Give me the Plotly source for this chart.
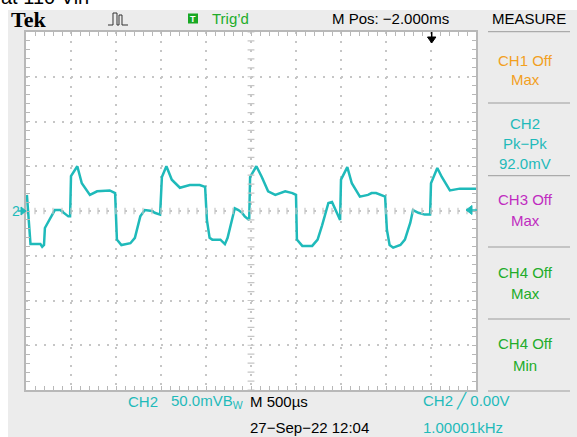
import plotly.graph_objects as go
import numpy as np

# ---------------- data ----------------
time_ms = [0.01, 0.04, 0.05, 0.16, 0.18, 0.20, 0.21, 0.32, 0.38, 0.47,
           0.49, 0.50, 0.57, 0.62, 0.71, 0.79, 0.93, 0.99, 1.01, 1.06,
           1.16, 1.21, 1.27, 1.32, 1.40, 1.43, 1.49, 1.51, 1.56, 1.62,
           1.71, 1.82, 1.93, 1.99, 2.01, 2.04, 2.07, 2.16, 2.21, 2.24,
           2.29, 2.32, 2.36, 2.40, 2.43, 2.48, 2.49, 2.56, 2.62, 2.69,
           2.77, 2.88, 2.96, 3.00, 3.01, 3.07, 3.18, 3.24, 3.29, 3.36,
           3.40, 3.44, 3.49, 3.50, 3.57, 3.62, 3.71, 3.80, 3.84, 3.89,
           3.99, 4.01, 4.04, 4.08, 4.16, 4.21, 4.27, 4.30, 4.36, 4.43,
           4.49, 4.50, 4.57, 4.62, 4.71, 4.82, 4.93, 5.00]
ch2_mV = [18, -32, -37, -37, -40, -38, -19, 1, 1, -6,
          -6, 39, 50, 31, 18, 22, 23, 20, -32, -38,
          -36, -30, -6, 1, 0, -2, -4, 38, 50, 35,
          26, 29, 29, 27, -10, -30, -32, -32, -37, -30,
          -10, 3, 1, -2, -6, -10, 38, 50, 38, 22,
          18, 22, 20, 18, -32, -39, -39, -32, -16, 9,
          10, 1, -10, 35, 49, 31, 16, 18, 20, 20,
          16, -21, -38, -41, -38, -32, -13, 1, -2, -4,
          -4, 31, 48, 38, 23, 25, 25, 25]

header_labels = ["Tek", "Trig’d", "M Pos: −2.000ms", "MEASURE"]
measure_lines = [["CH1 Off", "Max"], ["CH2", "Pk−Pk", "92.0mV"], ["CH3 Off", "Max"],
                 ["CH4 Off", "Max"], ["CH4 Off", "Min"]]
footer_labels = ["CH2", "50.0mVB<sub>W</sub>", "M 500µs", "27−Sep−22 12:04", "CH2 ╱ 0.00V", "1.00001kHz"]
caption_text = "at 110 Vin"

# ---------------- geometry helpers ----------------
W, H = 577, 437
L, R, T, B = 26, 476, 32, 390


def xp(px):
    return (px - L) / (R - L)


def yp(py):
    return (B - py) / (B - T)


def ppath(pts):
    s = ""
    for c, x, y in pts:
        s += f"{c} {xp(x):.5f},{yp(y):.5f} "
    return s


TEAL = "#1fbaba"
ORANGE = "#f2a01e"
MAGENTA = "#c02cc0"
GREEN = "#22ac2a"
GRID = "#c6c6c6"
FRAME = "#b8b8b8"
FONT = "Liberation Sans, Arial, sans-serif"

fig = go.Figure()
fig.add_trace(go.Scatter(x=time_ms, y=ch2_mV, mode="lines",
                         line=dict(color=TEAL, width=2.5), hoverinfo="skip"))

axis_common = dict(showgrid=True, gridcolor=GRID, griddash="2px,7px", gridwidth=2,
                   zeroline=False, showline=True, linecolor=FRAME, linewidth=1.5,
                   mirror="ticks", ticks="inside", ticklen=4, tickcolor=FRAME,
                   showticklabels=False, fixedrange=True)
fig.update_xaxes(range=[0, 5], dtick=0.5, tick0=0,
                 minor=dict(dtick=0.1, tick0=0, ticks="inside", ticklen=4,
                            tickcolor=FRAME, showgrid=False), **axis_common)
fig.update_yaxes(range=[-200, 200], dtick=50, tick0=0,
                 minor=dict(dtick=10, tick0=0, ticks="inside", ticklen=4,
                            tickcolor=FRAME, showgrid=False), **axis_common)

shapes = []
# white strips at top and left of the screenshot
shapes.append(dict(type="rect", xref="paper", yref="paper", x0=xp(-5), x1=xp(W + 5),
                   y0=yp(10), y1=yp(-5), fillcolor="white", line=dict(width=0), layer="below"))
shapes.append(dict(type="rect", xref="paper", yref="paper", x0=xp(-5), x1=xp(8),
                   y0=yp(H + 5), y1=yp(-5), fillcolor="white", line=dict(width=0), layer="below"))

# centre cross tick marks
cp = ""
for t in np.arange(0, 5.0001, 0.1):
    cp += f"M {t:.3f},-3.5 L {t:.3f},3.5 "
for v in np.arange(-200, 200.001, 10):
    cp += f"M 2.462,{v:.1f} L 2.538,{v:.1f} "
shapes.append(dict(type="path", xref="x", yref="y", path=cp, line=dict(color=GRID, width=1.2)))

# measure panel separators
for py in [31.7, 103, 175.7, 247, 319, 391]:
    shapes.append(dict(type="line", xref="paper", yref="paper", x0=xp(488), x1=xp(570),
                       y0=yp(py), y1=yp(py), line=dict(color="#9c9c9c", width=1)))

# green trig box
shapes.append(dict(type="rect", xref="paper", yref="paper", x0=xp(188), x1=xp(198),
                   y0=yp(23.5), y1=yp(13.5), fillcolor="#18a823", line=dict(width=0)))

# acquisition icon
shapes.append(dict(type="path", xref="paper", yref="paper",
                   path=ppath([("M", 108, 25), ("L", 113, 25), ("L", 113, 13), ("L", 117, 13),
                               ("L", 117, 25), ("L", 119, 25), ("L", 119, 15), ("L", 122, 15),
                               ("L", 122, 25), ("L", 128, 25)]),
                   line=dict(color="#333333", width=1)))

# ground marker arrow (left)
shapes.append(dict(type="path", xref="paper", yref="paper",
                   path=ppath([("M", 18, 211), ("L", 25, 211)]), line=dict(color=TEAL, width=1.5)))
shapes.append(dict(type="path", xref="paper", yref="paper",
                   path=ppath([("M", 26, 211), ("L", 21, 207), ("L", 21, 215), ("Z", 26, 211)]),
                   fillcolor=TEAL, line=dict(color=TEAL, width=1)))

# trigger level arrow (right)
shapes.append(dict(type="path", xref="paper", yref="paper",
                   path=ppath([("M", 468, 210), ("L", 477, 210)]), line=dict(color=TEAL, width=1.5)))
shapes.append(dict(type="path", xref="paper", yref="paper",
                   path=ppath([("M", 466, 210), ("L", 472, 205.5), ("L", 472, 214.5), ("Z", 466, 210)]),
                   fillcolor=TEAL, line=dict(color=TEAL, width=1)))

# trigger position arrow (top)
shapes.append(dict(type="path", xref="paper", yref="paper",
                   path=ppath([("M", 431.7, 32), ("L", 431.7, 39)]), line=dict(color="black", width=1.5)))
shapes.append(dict(type="path", xref="paper", yref="paper",
                   path=ppath([("M", 431.7, 43), ("L", 427.5, 37), ("L", 435.9, 37), ("Z", 431.7, 43)]),
                   fillcolor="black", line=dict(color="black", width=1)))

annotations = []


def ann(text, px, py, color="black", size=15, xanchor="left", family=FONT, yanchor="middle"):
    annotations.append(dict(text=text, x=xp(px), y=yp(py), xref="paper", yref="paper",
                            xanchor=xanchor, yanchor=yanchor, showarrow=False,
                            font=dict(family=family, size=size, color=color)))


ann(caption_text, -1, 10, "black", 20, yanchor="bottom")
ann("<b>" + header_labels[0] + "</b>", 9, 20, "black", 22, family="Liberation Serif, serif")
ann("<b>T</b>", 193, 18.8, "white", 9, xanchor="center")
ann(header_labels[1], 210, 19, GREEN, 15)
ann(header_labels[2], 330, 19, "black", 15)
ann(header_labels[3], 529, 19, "black", 15, xanchor="center")

mcolors = [ORANGE, TEAL, MAGENTA, GREEN, GREEN]
mys = [[60, 80], [123, 143, 163], [200, 220], [272, 293], [343, 365]]
for lines, c, ys in zip(measure_lines, mcolors, mys):
    for txt, y in zip(lines, ys):
        ann(txt, 525, y, c, 15, xanchor="center")

ann("2", 10, 211, TEAL, 14)

ann(footer_labels[0], 126, 401, TEAL, 15)
ann(footer_labels[1], 169, 401, TEAL, 15)
ann(footer_labels[2], 248, 401, "black", 15)
ann(footer_labels[3], 248, 427, "black", 15)
ann(footer_labels[4], 421, 401, TEAL, 15)
ann(footer_labels[5], 421, 427, TEAL, 15)

fig.update_layout(width=W, height=H, margin=dict(l=L, r=W - R, t=T, b=H - B),
                  paper_bgcolor="#ececec", plot_bgcolor="white", showlegend=False,
                  shapes=shapes, annotations=annotations)

fig.write_html("out.html", config={"displayModeBar": False},
               post_script="document.body.style.margin='0';")
